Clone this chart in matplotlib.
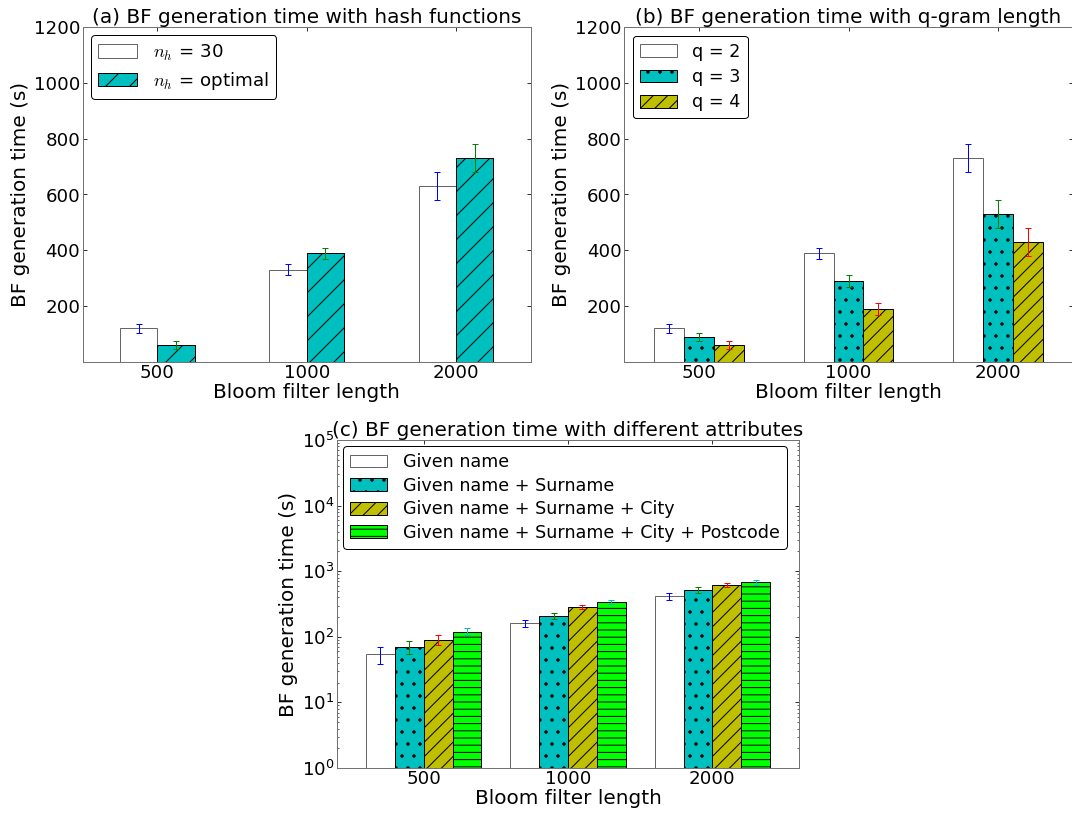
import matplotlib
matplotlib.use('Agg')
import matplotlib.pyplot as plt
import numpy as np
from matplotlib.font_manager import FontProperties
from matplotlib.path import Path
from matplotlib.backend_bases import GraphicsContextBase

# ---------------- data ----------------
lengths = ['500', '1000', '2000']

# (a) hash functions
nh_labels = [r'$n_h$ = 30', r'$n_h$ = optimal']
nh30 = [120, 330, 630]
nh30_err = [15, 20, 50]
nhopt = [60, 390, 730]
nhopt_err = [15, 20, 50]

# (b) q-gram length
q_labels = ['q = 2', 'q = 3', 'q = 4']
q2 = [120, 390, 730]
q2_err = [15, 20, 50]
q3 = [90, 290, 530]
q3_err = [15, 20, 50]
q4 = [60, 190, 430]
q4_err = [15, 20, 50]

# (c) attributes
attr_labels = ['Given name', 'Given name + Surname',
               'Given name + Surname + City',
               'Given name + Surname + City + Postcode']
attr_g = [54, 160, 420]
attr_g_err = [15, 20, 50]
attr_gs = [70, 207, 520]
attr_gs_err = [15, 20, 50]
attr_gsc = [90, 285, 615]
attr_gsc_err = [15, 20, 50]
attr_gscp = [120, 340, 675]
attr_gscp_err = [15, 20, 50]

# ---------------- hatch density tweak ----------------
HATCH_DENSITY = {'//': 5, '--': 5}

def _get_hatch_path(self, density=6.0):
    h = self.get_hatch()
    if h is None:
        return None
    return Path.hatch(h, HATCH_DENSITY.get(h, density))

GraphicsContextBase.get_hatch_path = _get_hatch_path

# ---------------- style ----------------
DPI = 72
FS_TICK = 18.3
FS_LABEL = 20
FS_TITLE = 20
FS_LEG = 17.5
plt.rcParams['font.family'] = ['DejaVu Sans']
plt.rcParams['font.size'] = FS_TICK
plt.rcParams['hatch.linewidth'] = 1.0
plt.rcParams['xtick.direction'] = 'in'
plt.rcParams['ytick.direction'] = 'in'
plt.rcParams['xtick.top'] = True
plt.rcParams['ytick.right'] = True
plt.rcParams['xtick.major.size'] = 4
plt.rcParams['ytick.major.size'] = 4
plt.rcParams['ytick.minor.size'] = 2
plt.rcParams['xtick.major.pad'] = 2.5
plt.rcParams['ytick.major.pad'] = 2.5

SPINE = '0.45'
WHITE_EDGE = '0.4'
C_CYAN = '#00bfbf'
C_OLIVE = '#bfbf00'
C_LIME = '#00ff00'
E_BLUE = '#0000ff'
E_GREEN = '#008000'
E_RED = '#ff0000'
E_CYAN = '#00bfbf'

W, H = 1072, 814
fig = plt.figure(figsize=(W / DPI, H / DPI), dpi=DPI)

def box(l, t, r, b):
    return [l / W, 1 - b / H, (r - l) / W, (b - t) / H]

axa = fig.add_axes(box(82.7, 27, 530.7, 362))
axb = fig.add_axes(box(624, 27, 1073, 362))
axc = fig.add_axes(box(337, 440, 799, 768))

x = np.arange(len(lengths))

def style(ax):
    for s in ax.spines.values():
        s.set_color(SPINE)
        s.set_linewidth(1.0)
    ax.set_xticks(x)
    ax.set_xticklabels(lengths)
    ax.set_xlabel('Bloom filter length', fontsize=FS_LABEL, labelpad=0.5)
    ax.set_ylabel('BF generation time (s)', fontsize=FS_LABEL, labelpad=4)

def draw(ax, series, errs, colors, hatches, ecolors, width, labels):
    n = len(series)
    offs = (np.arange(n) - (n - 1) / 2) * width
    handles = []
    for vals, er, col, ht, ec, off, lab in zip(series, errs, colors, hatches, ecolors, offs, labels):
        edge = WHITE_EDGE if col == 'white' else 'black'
        b = ax.bar(x + off, vals, width, color=col, edgecolor=edge, hatch=ht,
                   linewidth=1.0, label=lab, zorder=2)
        ax.errorbar(x + off, vals, yerr=er, fmt='none', ecolor=ec, elinewidth=1.0,
                    capsize=3, capthick=1.0, zorder=3)
        handles.append(b)
    return handles

leg_kw = dict(loc='upper left', fancybox=True, edgecolor='black', framealpha=1.0,
              handlelength=2.1, handleheight=0.75, handletextpad=0.9)

# (a)
h = draw(axa, [nh30, nhopt], [nh30_err, nhopt_err], ['white', C_CYAN], ['', '/'],
         [E_BLUE, E_GREEN], 0.25, nh_labels)
axa.set_xlim(-0.5, 2.5)
axa.set_ylim(0, 1200)
axa.set_yticks([200, 400, 600, 800, 1000, 1200])
style(axa)
axa.set_title('(a) BF generation time with hash functions', pad=1.5, fontsize=FS_TITLE)
axa.legend(handles=h, prop=FontProperties(size=18.3, math_fontfamily='cm'),
           borderaxespad=0.45, labelspacing=0.38, **leg_kw)

# (b)
h = draw(axb, [q2, q3, q4], [q2_err, q3_err, q4_err], ['white', C_CYAN, C_OLIVE],
         ['', '.', '//'], [E_BLUE, E_GREEN, E_RED], 0.2, q_labels)
axb.set_xlim(-0.5, 2.5)
axb.set_ylim(0, 1200)
axb.set_yticks([200, 400, 600, 800, 1000, 1200])
style(axb)
axb.set_title('(b) BF generation time with q-gram length', pad=1.5, fontsize=FS_TITLE)
axb.legend(handles=h, prop=FontProperties(size=FS_LEG),
           borderaxespad=0.5, labelspacing=0.42, **leg_kw)

# (c)
h = draw(axc, [attr_g, attr_gs, attr_gsc, attr_gscp],
         [attr_g_err, attr_gs_err, attr_gsc_err, attr_gscp_err],
         ['white', C_CYAN, C_OLIVE, C_LIME], ['', '.', '//', '--'],
         [E_BLUE, E_GREEN, E_RED, E_CYAN], 0.2, attr_labels)
axc.set_yscale('log')
axc.set_xlim(-0.6, 2.6)
axc.set_ylim(1, 1e5)
style(axc)
axc.set_title('(c) BF generation time with different attributes', pad=1.5,
              fontsize=FS_TITLE)
axc.legend(handles=h, prop=FontProperties(size=FS_LEG),
           borderaxespad=0.35, labelspacing=0.32, **leg_kw)

fig.savefig('out.png', dpi=DPI)
